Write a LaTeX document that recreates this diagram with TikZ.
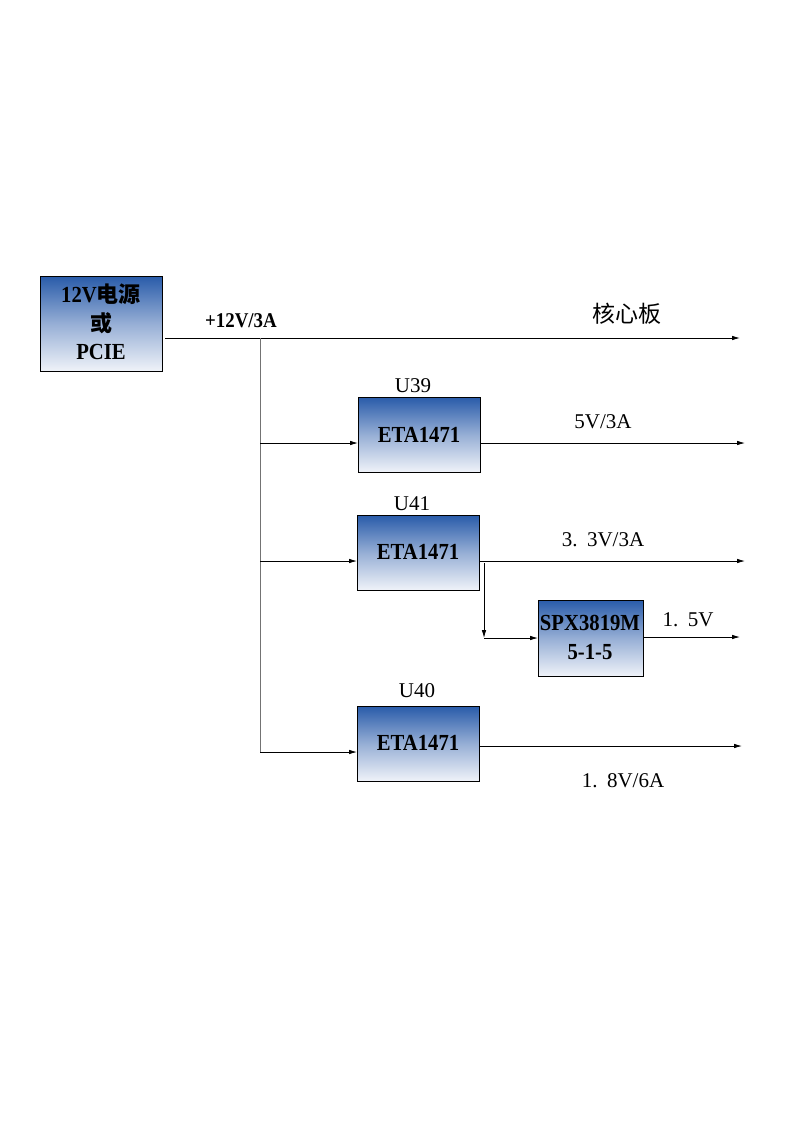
\documentclass[tikz,border=0pt]{standalone}
\usepackage{fontspec}
\setmainfont{Liberation Serif}
\newfontfamily\boxfont[FakeStretch=0.9]{Liberation Serif}
\newfontfamily\cjk{Noto Sans CJK SC}
\usetikzlibrary{arrows.meta}
\definecolor{bdark}{HTML}{2A5CAA}
\definecolor{blight}{HTML}{F0F3F9}
\tikzset{
  blk/.style={draw=black, line width=0.8pt, anchor=north west, inner sep=0pt,
    top color=bdark, bottom color=blight, middle color=bdark!45!blight},
  wire/.style={draw=black, line width=0.8pt},
  arr/.style={wire, -{Latex[length=8pt,width=4.5pt]}},
  bus/.style={draw=black!55, line width=0.8pt},
  lbl/.style={font=\fontsize{21}{23}\selectfont, inner sep=0pt},
  blbl/.style={font=\boxfont\bfseries\fontsize{23}{25}\selectfont, inner sep=0pt, align=center},
}
\begin{document}
\begin{tikzpicture}[x=1pt,y=-1pt]
\useasboundingbox (0,0) rectangle (794,1123);
% boxes
\node[blk, minimum width=122pt, minimum height=95pt] (src) at (40,276) {};
\node[blk, minimum width=122pt, minimum height=75pt] (u39) at (358,397) {};
\node[blk, minimum width=122pt, minimum height=75pt] (u41) at (357,515) {};
\node[blk, minimum width=105pt, minimum height=76pt] (spx) at (538,600) {};
\node[blk, minimum width=122pt, minimum height=75pt] (u40) at (357,706) {};
% box texts
\node[blbl] (srct1) at (101,294) {12V{\cjk\bfseries\fontsize{22}{24}\selectfont 电源}};
\node[blbl] (srct2) at (101,323) {{\cjk\bfseries\fontsize{22}{24}\selectfont 或}};
\node[blbl] (srct3) at (101,352) {PCIE};
\node[blbl] (u39t) at (419,435) {ETA1471};
\node[blbl] (u41t) at (418,552) {ETA1471};
\node[blbl] (u40t) at (418,743) {ETA1471};
\node[blbl] (spxt1) at (590,623) {SPX3819M};
\node[blbl] (spxt2) at (590,652) {5-1-5};
% coordinates
\coordinate (m0) at (165,338);
\coordinate (m1) at (740,338);
\coordinate (bt) at (260,338);
\coordinate (bb) at (260,752);
\coordinate (i39) at (260,443);
\coordinate (i41) at (260,561);
\coordinate (i40) at (260,752);
\coordinate (o39) at (745,443);
\coordinate (o41) at (745,561);
\coordinate (o40) at (742,746);
\coordinate (osp) at (740,637);
\coordinate (d0) at (484,563);
\coordinate (d1) at (484,638);
% wires
\draw[arr] (m0) -- (m1);
\draw[bus] (bt) -- (bb);
\draw[arr] (i39) -- (u39.west |- i39);
\draw[arr] (i41) -- (u41.west |- i41);
\draw[arr] (i40) -- (u40.west |- i40);
\draw[arr] (u39.east |- o39) -- (o39);
\draw[arr] (u41.east |- o41) -- (o41);
\draw[arr] (u40.east |- o40) -- (o40);
\draw[arr] (spx.east |- osp) -- (osp);
\draw[arr] (d0) -- (d1);
\draw[arr] (d1) -- (spx.west |- d1);
% labels
\node[font=\boxfont\bfseries\fontsize{21}{23}\selectfont, inner sep=0pt] (l12) at (241,321) {+12V/3A};
\node[font=\cjk\fontsize{23}{25}\selectfont, inner sep=0pt] (lcore) at (627,314) {核心板};
\node[lbl] (n39) at (413,386) {U39};
\node[lbl] (n41) at (412,504) {U41};
\node[lbl] (n40) at (417,691) {U40};
\node[lbl] (v5) at (603,422) {5V/3A};
\node[lbl] (v33) at (603,540) {3.\hspace{0.45em}3V/3A};
\node[lbl] (v15) at (688,620) {1.\hspace{0.45em}5V};
\node[lbl] (v18) at (623,781) {1.\hspace{0.45em}8V/6A};
\end{tikzpicture}
\end{document}
